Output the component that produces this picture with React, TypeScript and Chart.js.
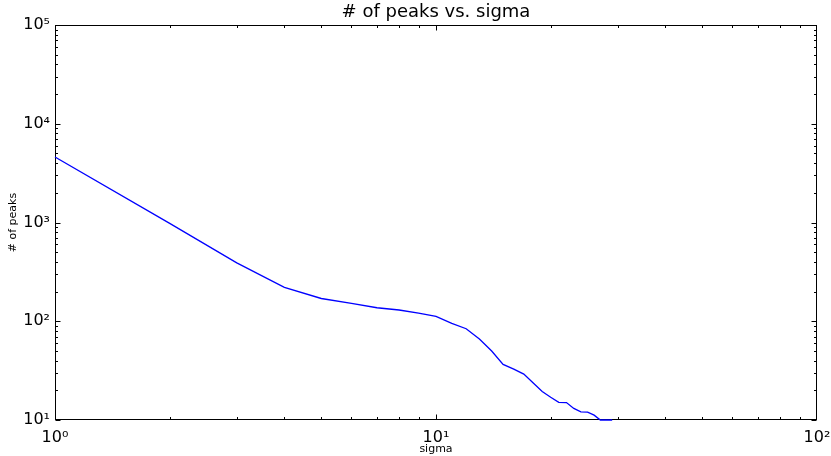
import React, { useEffect, useRef } from 'react';
import { Chart, registerables } from 'chart.js';

Chart.register(...registerables);

const sigma = [1, 2, 3, 4, 5, 6, 7, 8, 9, 10, 11, 12, 13, 14, 15, 16, 17, 18, 19, 20, 21, 22, 23, 24, 25, 26, 27, 28, 29];
const peaks = [4600, 980, 390, 220, 170, 152, 137, 130, 121, 112, 95, 84, 66, 50, 36.6, 32.8, 29.2, 23.7, 19.4, 17, 15.1, 15, 13.1, 12.1, 12, 11.2, 10, 10, 10];

const xMajorTicks = [1, 10, 100];
const xTickLabels = ['10⁰', '10¹', '10²'];
const yMajorTicks = [10, 100, 1000, 10000, 100000];
const yTickLabels = ['10¹', '10²', '10³', '10⁴', '10⁵'];

const FONT = "'DejaVu Sans', sans-serif";

const framePlugin = {
  id: 'frame',
  beforeDatasetsDraw(chart: any) {
    const { ctx, chartArea, scales } = chart;
    const { left, right, top, bottom } = chartArea;
    const x = scales.x;
    const y = scales.y;
    ctx.save();
    ctx.strokeStyle = '#000';
    ctx.lineWidth = 1;
    const L = Math.round(left) + 0.5;
    const R = Math.round(right) - 0.5;
    const T = Math.round(top) + 0.5;
    const B = Math.round(bottom) - 0.5;
    ctx.beginPath();
    for (let d = 0; d < 2; d++) {
      for (let m = 1; m <= 9; m++) {
        const v = m * Math.pow(10, d);
        const px = Math.round(x.getPixelForValue(v)) + 0.5;
        const len = m === 1 ? 5 : 2.5;
        ctx.moveTo(px, B);
        ctx.lineTo(px, B - len);
        ctx.moveTo(px, T);
        ctx.lineTo(px, T + len);
      }
    }
    for (let d = 1; d < 5; d++) {
      for (let m = 1; m <= 9; m++) {
        const v = m * Math.pow(10, d);
        const py = Math.round(y.getPixelForValue(v)) + 0.5;
        const len = m === 1 ? 5 : 2.5;
        ctx.moveTo(L, py);
        ctx.lineTo(L + len, py);
        ctx.moveTo(R, py);
        ctx.lineTo(R - len, py);
      }
    }
    ctx.stroke();
    ctx.strokeRect(L, T, R - L, B - T);
    ctx.restore();
  },
};

export default function App() {
  const canvasRef = useRef<HTMLCanvasElement | null>(null);

  useEffect(() => {
    document.body.style.margin = '0';
    const canvas = canvasRef.current;
    if (!canvas) return;
    const chart = new Chart(canvas, {
      type: 'line',
      data: {
        datasets: [
          {
            label: '# of peaks',
            data: sigma.map((s, i) => ({ x: s, y: peaks[i] })),
            borderColor: '#0000ff',
            borderWidth: 1.3,
            pointRadius: 0,
            fill: false,
            tension: 0,
            clip: 2,
          },
        ],
      },
      options: {
        animation: false,
        responsive: false,
        layout: { padding: { left: 0, right: 14, top: 0, bottom: 0 } },
        plugins: {
          legend: { display: false },
          tooltip: { enabled: false },
          title: {
            display: true,
            text: '# of peaks vs. sigma',
            fullSize: false,
            color: '#000',
            font: { family: FONT, size: 18, weight: 'normal' },
            padding: { top: 1.5, bottom: 1.9 },
          },
        },
        scales: {
          x: {
            type: 'logarithmic',
            min: 1,
            max: 100,
            grid: { display: false, drawTicks: false },
            border: { display: false },
            afterBuildTicks: (s: any) => {
              s.ticks = xMajorTicks.map((v) => ({ value: v }));
            },
            afterFit: (s: any) => {
              s.height = 36;
              s.paddingLeft = 0;
              s.paddingRight = 0;
            },
            ticks: {
              autoSkip: false,
              maxRotation: 0,
              padding: 8,
              color: '#000',
              font: { family: FONT, size: 16 },
              callback: (_v: any, i: number) => xTickLabels[i],
            },
            title: {
              display: true,
              text: 'sigma',
              color: '#000',
              font: { family: FONT, size: 11 },
              padding: { top: 0, bottom: 0 },
            },
          },
          y: {
            type: 'logarithmic',
            min: 10,
            max: 100000,
            grid: { display: false, drawTicks: false },
            border: { display: false },
            afterBuildTicks: (s: any) => {
              s.ticks = yMajorTicks.map((v) => ({ value: v }));
            },
            afterFit: (s: any) => {
              s.width = 55;
              s.paddingTop = 0;
              s.paddingBottom = 0;
            },
            ticks: {
              autoSkip: false,
              padding: 5,
              color: '#000',
              font: { family: FONT, size: 16 },
              callback: (_v: any, i: number) => yTickLabels[i],
            },
            title: {
              display: true,
              text: '# of peaks',
              color: '#000',
              font: { family: FONT, size: 11 },
              padding: { top: 7, bottom: 0 },
            },
          },
        },
      },
      plugins: [framePlugin],
    });
    return () => chart.destroy();
  }, []);

  return (
    <div style={{ width: 831, height: 456, position: 'relative', background: '#fff' }}>
      <canvas ref={canvasRef} width={831} height={456} style={{ display: 'block' }} />
    </div>
  );
}
